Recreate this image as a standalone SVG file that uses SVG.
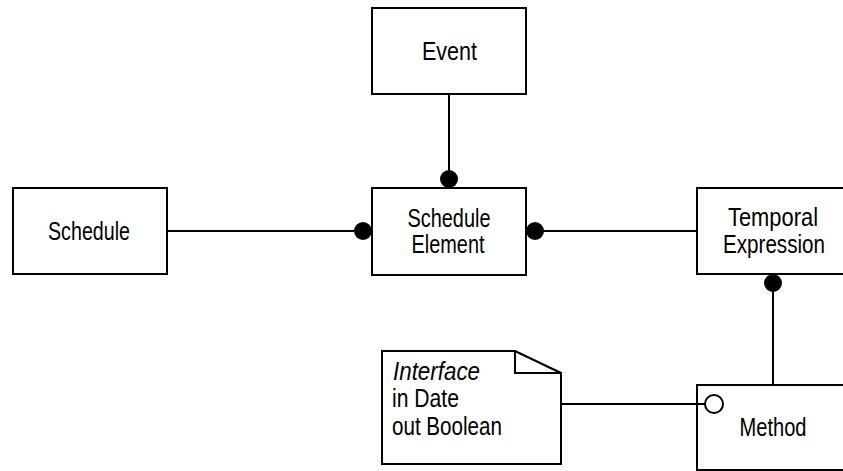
<svg xmlns="http://www.w3.org/2000/svg" width="843" height="471" viewBox="0 0 843 471">
<style>
.box{fill:#fff;stroke:#000;stroke-width:2}
.line{stroke:#000;stroke-width:2;fill:none}
.dot{fill:#000}
.open{fill:#fff;stroke:#000;stroke-width:2}
text{font-family:"Liberation Sans",Arial,sans-serif;font-size:25px;fill:#000}
.c{text-anchor:middle}
</style>
<rect width="843" height="471" fill="#fff"/>
<g id="event">
<rect class="box" x="372" y="8" width="154" height="86"/>
<text class="c" x="449.5" y="60" textLength="55" lengthAdjust="spacingAndGlyphs">Event</text>
</g>
<g id="schedule">
<rect class="box" x="13" y="188" width="154" height="86"/>
<text class="c" x="89" y="240" textLength="82" lengthAdjust="spacingAndGlyphs">Schedule</text>
</g>
<g id="schedule-element">
<rect class="box" x="372" y="188" width="154" height="87"/>
<text class="c" x="449" y="227" textLength="83" lengthAdjust="spacingAndGlyphs">Schedule</text>
<text class="c" x="448" y="253" textLength="73" lengthAdjust="spacingAndGlyphs">Element</text>
</g>
<g id="temporal-expression">
<rect class="box" x="697" y="188" width="160" height="86"/>
<text class="c" x="773" y="226" textLength="90" lengthAdjust="spacingAndGlyphs">Temporal</text>
<text class="c" x="774" y="253" textLength="102" lengthAdjust="spacingAndGlyphs">Expression</text>
</g>
<g id="method">
<rect class="box" x="697" y="385" width="160" height="85"/>
<text class="c" x="773" y="436" textLength="67" lengthAdjust="spacingAndGlyphs">Method</text>
</g>
<g id="interface-note">
<polygon class="box" points="382,351 515,351 561,373 561,464 382,464"/>
<polyline class="line" points="515,351 515,373 561,373"/>
<line x1="515" y1="351" x2="561" y2="373" stroke="#000" stroke-width="1.5" stroke-dasharray="3,1"/>
<text x="393" y="380" font-style="italic" textLength="87" lengthAdjust="spacingAndGlyphs">Interface</text>
<text x="392" y="407" textLength="67" lengthAdjust="spacingAndGlyphs">in Date</text>
<text x="392" y="435" textLength="110" lengthAdjust="spacingAndGlyphs">out Boolean</text>
</g>
<g id="connectors">
<line class="line" x1="449" y1="95" x2="449" y2="179"/>
<circle class="dot" cx="449" cy="179" r="9"/>
<line class="line" x1="168" y1="231" x2="363" y2="231"/>
<circle class="dot" cx="363" cy="231" r="9"/>
<line class="line" x1="535" y1="231" x2="696" y2="231"/>
<circle class="dot" cx="535" cy="231" r="9"/>
<line class="line" x1="773" y1="283" x2="773" y2="384"/>
<circle class="dot" cx="773" cy="283" r="9"/>
<line class="line" x1="562" y1="404" x2="705" y2="404"/>
<circle class="open" cx="714" cy="404" r="9"/>
</g>
</svg>
